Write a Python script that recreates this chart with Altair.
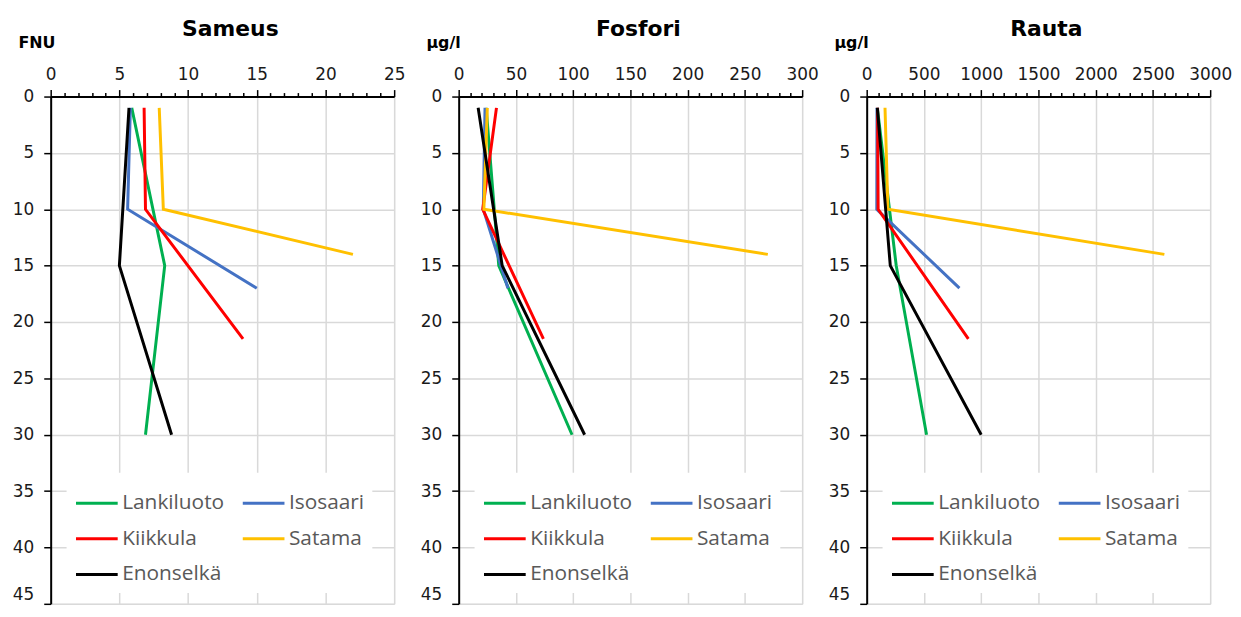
import altair as alt
import pandas as pd

stations = ["Lankiluoto", "Isosaari", "Kiikkula", "Satama", "Enonselkä"]
colors = ["#00B050", "#4472C4", "#FF0000", "#FFC000", "#000000"]

# sampling depths (m) per station
depth_lankiluoto = [1, 15, 30]
depth_isosaari = [1, 10, 17]
depth_kiikkula = [1, 10, 21.5]
depth_satama = [1, 10, 14]
depth_enonselka = [1, 15, 30]

# Sameus (FNU)
sameus_lankiluoto = [5.9, 8.3, 6.9]
sameus_isosaari = [5.8, 5.6, 15.0]
sameus_kiikkula = [6.8, 6.9, 14.0]
sameus_satama = [7.9, 8.2, 22.0]
sameus_enonselka = [5.7, 5.0, 8.8]

# Fosfori (µg/l)
fosfori_lankiluoto = [24, 35, 99]
fosfori_isosaari = [23, 21.5, 43]
fosfori_kiikkula = [33, 21, 74]
fosfori_satama = [25, 22, 270]
fosfori_enonselka = [17, 38, 110]

# Rauta (µg/l)
rauta_lankiluoto = [93, 258, 523]
rauta_isosaari = [90, 88, 810]
rauta_kiikkula = [95, 100, 888]
rauta_satama = [160, 185, 2600]
rauta_enonselka = [93, 206, 1000]

depths = [depth_lankiluoto, depth_isosaari, depth_kiikkula, depth_satama, depth_enonselka]


def make_df(series):
    rows = []
    for st, dep, vals in zip(stations, depths, series):
        for d, v in zip(dep, vals):
            rows.append({"station": st, "depth": d, "value": v})
    return pd.DataFrame(rows)


AXIS_FONT = "DejaVu Sans"


def panel(series, title, unit, xmax, step, major):
    df = make_df(series)
    major_test = f"datum.value % {major} === 0"
    x_axis = alt.Axis(
        orient="top",
        values=list(range(0, xmax + step, step)),
        format="d",
        labelExpr=f"{major_test} ? datum.label : ''",
        labelOverlap=False,
        labelFlush=False,
        labelFont=AXIS_FONT,
        labelFontSize=17,
        labelColor="#1a1a1a",
        labelPadding=6,
        tickSize={"condition": {"test": major_test, "value": 7}, "value": 4},
        tickColor="black",
        tickWidth=1.5,
        gridOpacity={"condition": {"test": major_test, "value": 1}, "value": 0},
        gridColor="#D9D9D9",
        gridWidth=1.5,
        domainColor="black",
        domainWidth=2,
        title=None,
    )
    y_axis = alt.Axis(
        values=list(range(0, 50, 5)),
        labelFlush=False,
        labelOverlap=False,
        labelBaseline={"condition": {"test": "datum.value === 45", "value": "bottom"}, "value": "middle"},
        labelFont=AXIS_FONT,
        labelFontSize=17,
        labelColor="#1a1a1a",
        labelPadding=10,
        tickSize=7,
        tickColor="black",
        tickWidth=1.5,
        gridColor="#D9D9D9",
        gridWidth=1.5,
        domainColor="black",
        domainWidth=2,
        title=unit,
        titleAngle=0,
        titleX=-33,
        titleY=-54,
        titleAlign="left",
        titleBaseline="middle",
        titleFont=AXIS_FONT,
        titleFontSize=16,
        titleFontWeight="bold",
        titleColor="black",
    )
    legend = alt.Legend(
        orient="none",
        legendX=16,
        legendY=379,
        columns=2,
        direction="horizontal",
        title=None,
        symbolType="stroke",
        symbolSize=1764,
        symbolStrokeWidth=3,
        labelFont="Open Sans",
        labelFontSize=21,
        labelColor="#595959",
        labelOffset=3,
        columnPadding=12,
        rowPadding=3,
        fillColor="white",
        padding=8,
    )
    chart = alt.Chart(df).mark_line(strokeWidth=3).encode(
        x=alt.X("value:Q", scale=alt.Scale(domain=[0, xmax], nice=False), axis=x_axis),
        y=alt.Y("depth:Q", scale=alt.Scale(domain=[0, 45], reverse=True, nice=False), axis=y_axis),
        color=alt.Color("station:N", scale=alt.Scale(domain=stations, range=colors), legend=legend),
        order=alt.Order("depth:Q"),
    ).properties(
        width=346,
        height=511,
        title=alt.TitleParams(
            title,
            font=AXIS_FONT,
            fontSize=22,
            fontWeight="bold",
            color="black",
            anchor="middle",
            offset=-6,
            dx=8,
        ),
    )
    return chart


p1 = panel([sameus_lankiluoto, sameus_isosaari, sameus_kiikkula, sameus_satama, sameus_enonselka],
           "Sameus", "FNU", 25, 1, 5)
p2 = panel([fosfori_lankiluoto, fosfori_isosaari, fosfori_kiikkula, fosfori_satama, fosfori_enonselka],
           "Fosfori", "µg/l", 300, 10, 50)
p3 = panel([rauta_lankiluoto, rauta_isosaari, rauta_kiikkula, rauta_satama, rauta_enonselka],
           "Rauta", "µg/l", 3000, 100, 500)

chart = alt.hconcat(p1, p2, p3, spacing=65, bounds="flush").resolve_scale(
    color="independent"
).resolve_legend(color="independent").properties(
    padding={"left": 3, "top": 7, "right": 0, "bottom": 0}
).configure_view(
    stroke="black", strokeWidth=1
).configure(background="white")

chart.save("out.html", embed_options={"renderer": "svg", "actions": False})
